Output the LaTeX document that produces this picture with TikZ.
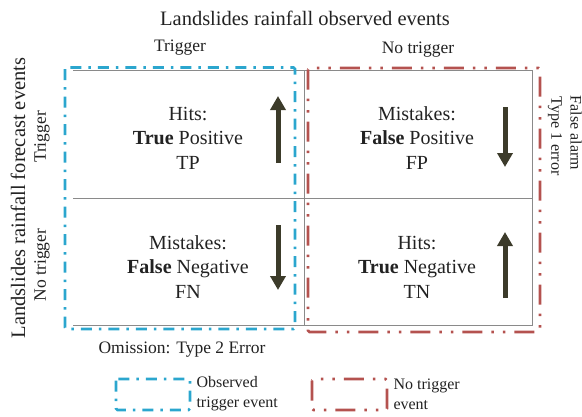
\documentclass[tikz,border=0pt]{standalone}
\usepackage{fontspec}
\setmainfont{Liberation Serif}
\usetikzlibrary{arrows.meta}
\definecolor{bl}{HTML}{2BA6CE}
\definecolor{rd}{HTML}{B4524F}
\definecolor{ar}{HTML}{3C3B2A}
\definecolor{gr}{HTML}{8A8A8A}
\definecolor{tx}{HTML}{222222}
\tikzset{
  gridline/.style={draw=gr, line width=0.9pt},
  bluebox/.style={draw=bl, line width=2.8pt, rounded corners=1.5pt, dash pattern=on 11pt off 7pt on 2.5pt off 7pt},
  redbox/.style={draw=rd, line width=2.8pt, rounded corners=1.5pt, dash pattern=on 20pt off 9pt on 2.5pt off 9pt on 2.5pt off 9pt},
  bigarrow/.style={draw=ar, line width=5pt, -{Triangle[width=15pt,length=14pt]}},
  celltext/.style={text=tx, align=center, font=\fontsize{20}{24.5}\selectfont},
  headtext/.style={text=tx, font=\fontsize{20.5}{24}\selectfont},
  subtext/.style={text=tx, font=\fontsize{17.5}{21}\selectfont},
  sidetext/.style={text=tx, font=\fontsize{16}{19}\selectfont},
  legendtext/.style={text=tx, align=left, anchor=west, font=\fontsize{16}{20}\selectfont},
}
\begin{document}
\begin{tikzpicture}[x=1pt,y=-1pt]
\useasboundingbox (0,0) rectangle (582,416);
% grid
\coordinate (g1) at (73,70);
\coordinate (g2) at (532,70);
\coordinate (g3) at (532,325);
\coordinate (g4) at (73,325);
\coordinate (gmt) at (304,70);
\coordinate (gmb) at (304,325);
\coordinate (gml) at (73,198);
\coordinate (gmr) at (532,198);
\draw[gridline] (g1) -- (g2) -- (g3) -- (g4);
\draw[gridline] (gmt) -- (gmb);
\draw[gridline] (gml) -- (gmr);
% boxes
\draw[bluebox] (65,67.5) rectangle (295,329);
\draw[redbox] (308,68) rectangle (540,332);
% titles
\node[headtext] (title) at (305,18) {Landslides rainfall observed events};
\node[subtext] (ttrig) at (180,48) {Trigger};
\node[subtext] (tnotrig) at (418,50) {No trigger};
\node[headtext, rotate=90] (left) at (18,198) {Landslides rainfall forecast events};
\node[subtext, rotate=90] (ltrig) at (42,137) {Trigger};
\node[subtext, rotate=90] (lnotrig) at (42,265) {No trigger};
\node[sidetext, rotate=-90] (falarm) at (576,133) {False alarm};
\node[sidetext, rotate=-90] (type1) at (555,136) {Type 1 error};
% cells
\node[celltext] (tp) at (188,138) {Hits:\\\textbf{True} Positive\\TP};
\node[celltext] (fp) at (417,138) {Mistakes:\\\textbf{False} Positive\\FP};
\node[celltext] (fn) at (188,267) {Mistakes:\\\textbf{False} Negative\\FN};
\node[celltext] (tn) at (417,267) {Hits:\\\textbf{True} Negative\\TN};
% arrows
\coordinate (a1s) at (278,163); \coordinate (a1e) at (278,96);
\coordinate (a2s) at (278,225); \coordinate (a2e) at (278,290);
\coordinate (a3s) at (505,107); \coordinate (a3e) at (505,167);
\coordinate (a4s) at (505,298); \coordinate (a4e) at (505,232);
\draw[bigarrow] (a1s) -- (a1e);
\draw[bigarrow] (a2s) -- (a2e);
\draw[bigarrow] (a3s) -- (a3e);
\draw[bigarrow] (a4s) -- (a4e);
% bottom
\node[subtext, anchor=west] (omit) at (95,350) {Omission: Type 2 Error};
% legend
\draw[bluebox] (116,379) rectangle (190,410);
\node[legendtext] (lg1) at (193,394) {Observed\\trigger event};
\draw[redbox] (312,379) rectangle (387,410);
\node[legendtext] (lg2) at (390,394) {No trigger\\event};
\end{tikzpicture}
\end{document}
